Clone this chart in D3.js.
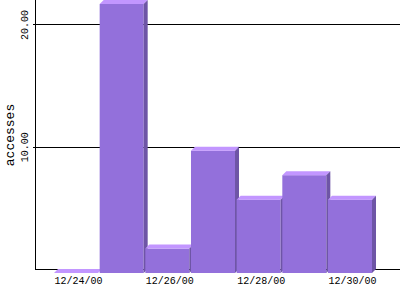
<!DOCTYPE html>
<html>
<head>
<meta charset="utf-8">
<script src="https://cdn.jsdelivr.net/npm/d3@7"></script>
<style>
  body { margin: 0; background: #fff; }
  svg { display: block; }
</style>
</head>
<body>
<script>
'use strict';

var dates = ["12/24/00", "12/25/00", "12/26/00", "12/27/00", "12/28/00", "12/29/00", "12/30/00"];
var accesses = [0, 22, 2, 10, 6, 8, 6];
var xTickLabels = ["12/24/00", "12/26/00", "12/28/00", "12/30/00"];
var yTickValues = [10, 20];

var width = 400;
var height = 300;
var left = 35;
var base = 269;
var depth = 4;
var font = "'Liberation Mono', 'DejaVu Sans Mono', monospace";

var svg = d3.select("body").append("svg")
    .attr("width", width)
    .attr("height", height);

var x = d3.scaleBand()
    .domain(dates)
    .range([54, 372])
    .paddingInner(0.036);

var y = d3.scaleLinear()
    .domain([0, 22])
    .range([base, 0]);

// grid lines, behind the bars
var grid = svg.append("g")
    .attr("transform", "translate(" + left + ",0)")
    .call(d3.axisRight(y).tickValues(yTickValues).tickSize(width - left).tickFormat(""));
grid.select(".domain").remove();
grid.selectAll("line").attr("stroke", "#000").attr("stroke-width", 1).attr("shape-rendering", "crispEdges");

// x axis line
svg.append("line")
    .attr("x1", left).attr("x2", width)
    .attr("y1", y(0) + 0.5).attr("y2", y(0) + 0.5)
    .attr("stroke", "#000");

// y axis
var yAxisGroup = svg.append("g")
    .attr("transform", "translate(" + (left + 0.5) + ",0)")
    .call(d3.axisLeft(y).tickValues(yTickValues).tickSize(3).tickSizeOuter(0).tickFormat(d3.format(".2f")));
yAxisGroup.select(".domain").attr("d", "M0,0V" + (base + 1)).attr("stroke", "#000");
yAxisGroup.selectAll(".tick line").attr("stroke", "#000").attr("shape-rendering", "crispEdges");
yAxisGroup.selectAll(".tick text")
    .attr("x", 0).attr("dy", 0)
    .attr("transform", "translate(-7.5,0) rotate(-90)")
    .attr("text-anchor", "middle")
    .attr("fill", "#000")
    .style("font-family", font)
    .style("font-size", "10px");

svg.append("text")
    .attr("transform", "translate(14,135) rotate(-90)")
    .attr("text-anchor", "middle")
    .style("font-family", font)
    .style("font-size", "13px")
    .text("accesses");

// 3d bars
var bars = svg.append("g").selectAll("g")
    .data(dates.map(function (d, i) { return { date: d, value: accesses[i] }; }))
    .join("g");

function front(d) {
    return { x0: x(d.date), x1: x(d.date) + x.bandwidth(), top: y(d.value) + depth, bottom: base + depth };
}

bars.append("rect")
    .attr("x", d => front(d).x0)
    .attr("y", d => front(d).top)
    .attr("width", x.bandwidth())
    .attr("height", d => front(d).bottom - front(d).top)
    .attr("fill", "#9370db");

bars.append("path")
    .attr("fill", "#c296ff")
    .attr("d", function (d) {
        var f = front(d);
        return "M" + f.x0 + "," + f.top + "L" + f.x1 + "," + f.top +
            "L" + (f.x1 + depth) + "," + (f.top - depth) + "L" + (f.x0 + depth) + "," + (f.top - depth) + "Z";
    });

bars.append("path")
    .attr("fill", "#6e55a6")
    .attr("d", function (d) {
        var f = front(d);
        return "M" + f.x1 + "," + f.top + "L" + (f.x1 + depth) + "," + (f.top - depth) +
            "L" + (f.x1 + depth) + "," + (f.bottom - depth) + "L" + f.x1 + "," + f.bottom + "Z";
    });

// x labels
var xAxisGroup = svg.append("g")
    .attr("transform", "translate(2.5," + (base + depth) + ")")
    .call(d3.axisBottom(x).tickValues(xTickLabels).tickSize(0).tickPadding(0));
xAxisGroup.select(".domain").remove();
xAxisGroup.selectAll(".tick text")
    .attr("dy", 0)
    .attr("y", 11)
    .attr("fill", "#000")
    .style("font-family", font)
    .style("font-size", "10px");
</script>
</body>
</html>
